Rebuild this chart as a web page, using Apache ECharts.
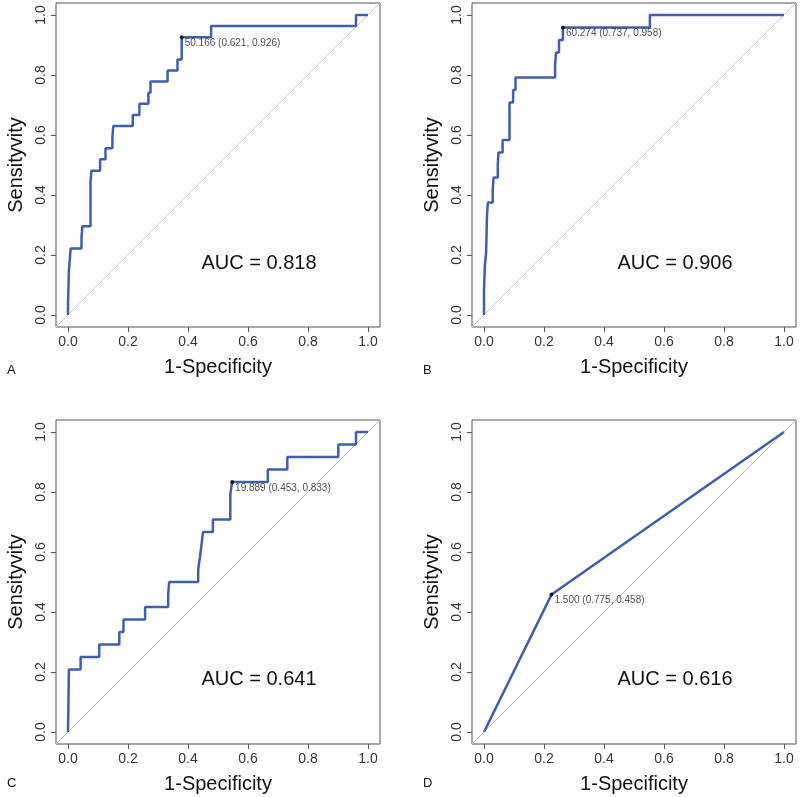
<!DOCTYPE html>
<html><head><meta charset="utf-8">
<script src="https://cdn.jsdelivr.net/npm/echarts@6/dist/echarts.min.js"></script>
<style>html,body{margin:0;padding:0;background:#fff}#c{width:800px;height:797px}</style>
</head><body><div id="c"></div>
<script>
// ---- data ----
const tickValues = [0, 0.2, 0.4, 0.6, 0.8, 1.0];
const panelLetters = ['A', 'B', 'C', 'D'];
const aucValues = ['0.818', '0.906', '0.641', '0.616'];

// ROC step vertices (1-Specificity, Sensitivity): tops of each vertical riser
const fprA = [0, 0, 0.003, 0.009, 0.045, 0.048, 0.075, 0.078, 0.107, 0.125, 0.148, 0.151, 0.216, 0.238, 0.268, 0.275, 0.332, 0.365, 0.379, 0.477, 0.96, 1];
const tprA = [0, 0.037, 0.148, 0.222, 0.259, 0.296, 0.444, 0.481, 0.519, 0.556, 0.593, 0.63, 0.667, 0.704, 0.741, 0.778, 0.815, 0.852, 0.926, 0.963, 1, 1];

const fprB = [0, 0, 0.003, 0.007, 0.01, 0.013, 0.029, 0.032, 0.046, 0.048, 0.062, 0.085, 0.097, 0.105, 0.237, 0.24, 0.25, 0.263, 0.553, 1];
const tprB = [0, 0.083, 0.167, 0.208, 0.333, 0.375, 0.417, 0.458, 0.5, 0.542, 0.583, 0.708, 0.75, 0.792, 0.833, 0.875, 0.917, 0.958, 1, 1];

const fprC = [0, 0.003, 0.042, 0.104, 0.171, 0.185, 0.257, 0.334, 0.337, 0.434, 0.44, 0.445, 0.45, 0.483, 0.541, 0.547, 0.666, 0.731, 0.901, 0.96, 1];
const tprC = [0, 0.208, 0.25, 0.292, 0.333, 0.375, 0.417, 0.458, 0.5, 0.542, 0.583, 0.625, 0.667, 0.708, 0.792, 0.833, 0.875, 0.917, 0.958, 1, 1];

const fprD = [0, 0.225, 1];
const tprD = [0, 0.458, 1];

// best cut-off: [threshold, specificity, sensitivity]
const cutA = ['50.166', 0.621, 0.926];
const cutB = ['60.274', 0.737, 0.958];
const cutC = ['19.889', 0.453, 0.833];
const cutD = ['1.500', 0.775, 0.458];

const diagonal = [-0.04, 1.04];

// ---- chart ----
const FONT = '"Liberation Sans", Arial, Helvetica, sans-serif';
const panels = [
  { fpr: fprA, tpr: tprA, cut: cutA, step: 'end' },
  { fpr: fprB, tpr: tprB, cut: cutB, step: 'end' },
  { fpr: fprC, tpr: tprC, cut: cutC, step: 'end' },
  { fpr: fprD, tpr: tprD, cut: cutD, step: false }
];
const gridPos = [
  { left: 56, top: 3 }, { left: 472, top: 3 },
  { left: 56, top: 420 }, { left: 472, top: 420 }
];
const zip = (a, b) => a.map((v, i) => [v, b[i]]);

const grids = gridPos.map(g => ({
  left: g.left, top: g.top, width: 324, height: 324,
  show: true, borderColor: '#555', borderWidth: 1, backgroundColor: 'transparent'
}));

const axisCommon = {
  type: 'value', min: -0.04, max: 1.04,
  axisLine: { show: false, onZero: false },
  axisTick: { show: true, inside: false, customValues: tickValues, length: 5, lineStyle: { color: '#555', width: 1 } },
  splitLine: { show: false },
  nameLocation: 'middle',
  nameTextStyle: { fontSize: 20, color: '#111', fontFamily: FONT }
};

const xAxes = panels.map((p, i) => Object.assign({}, axisCommon, {
  gridIndex: i, position: 'bottom',
  name: '1-Specificity', nameGap: 30,
  axisLabel: { customValues: tickValues, formatter: v => v.toFixed(1), fontSize: 14, color: '#333', margin: 8, fontFamily: FONT }
}));
const yAxes = panels.map((p, i) => Object.assign({}, axisCommon, {
  gridIndex: i, position: 'left',
  name: 'Sensityvity', nameGap: 30, nameRotate: 90,
  axisLabel: { customValues: tickValues, formatter: v => v.toFixed(1), fontSize: 14, color: '#333', margin: 8, rotate: 90, fontFamily: FONT }
}));

const series = [];
panels.forEach((p, i) => {
  series.push({
    type: 'line', xAxisIndex: i, yAxisIndex: i, data: zip(diagonal, diagonal),
    symbol: 'none', silent: true, lineStyle: { color: '#c8c8c8', width: 1 }, z: 1
  });
  series.push({
    type: 'line', xAxisIndex: i, yAxisIndex: i, data: zip(p.fpr, p.tpr),
    step: p.step, symbol: 'none', lineStyle: { color: '#3d5fae', width: 2.5 }, z: 2
  });
  series.push({
    type: 'scatter', xAxisIndex: i, yAxisIndex: i,
    data: [[+(1 - p.cut[1]).toFixed(3), p.cut[2]]],
    symbolSize: 4, itemStyle: { color: '#000' }, z: 3,
    label: {
      show: true, position: 'right', distance: 1, offset: [0, 6],
      formatter: () => p.cut[0] + ' (' + p.cut[1].toFixed(3) + ', ' + p.cut[2].toFixed(3) + ')',
      fontSize: 10, color: '#222', fontFamily: FONT
    }
  });
});

const graphics = [];
const letterPos = [[7, 370], [423, 370], [7, 783], [423, 783]];
const aucPos = [[259, 263], [675, 263], [259, 679], [675, 679]];
panelLetters.forEach((L, i) => {
  graphics.push({ type: 'text', x: letterPos[i][0], y: letterPos[i][1],
    style: { text: L, fontSize: 13, fill: '#111', fontFamily: FONT, align: 'left', verticalAlign: 'middle' } });
  graphics.push({ type: 'text', x: aucPos[i][0], y: aucPos[i][1],
    style: { text: 'AUC = ' + aucValues[i], fontSize: 20, fill: '#111', fontFamily: FONT, align: 'center', verticalAlign: 'middle' } });
});

const chart = echarts.init(document.getElementById('c'), null, { renderer: 'canvas' });
chart.setOption({
  animation: false,
  backgroundColor: '#fff',
  textStyle: { fontFamily: FONT },
  grid: grids, xAxis: xAxes, yAxis: yAxes, series: series, graphic: graphics
});
</script></body></html>
